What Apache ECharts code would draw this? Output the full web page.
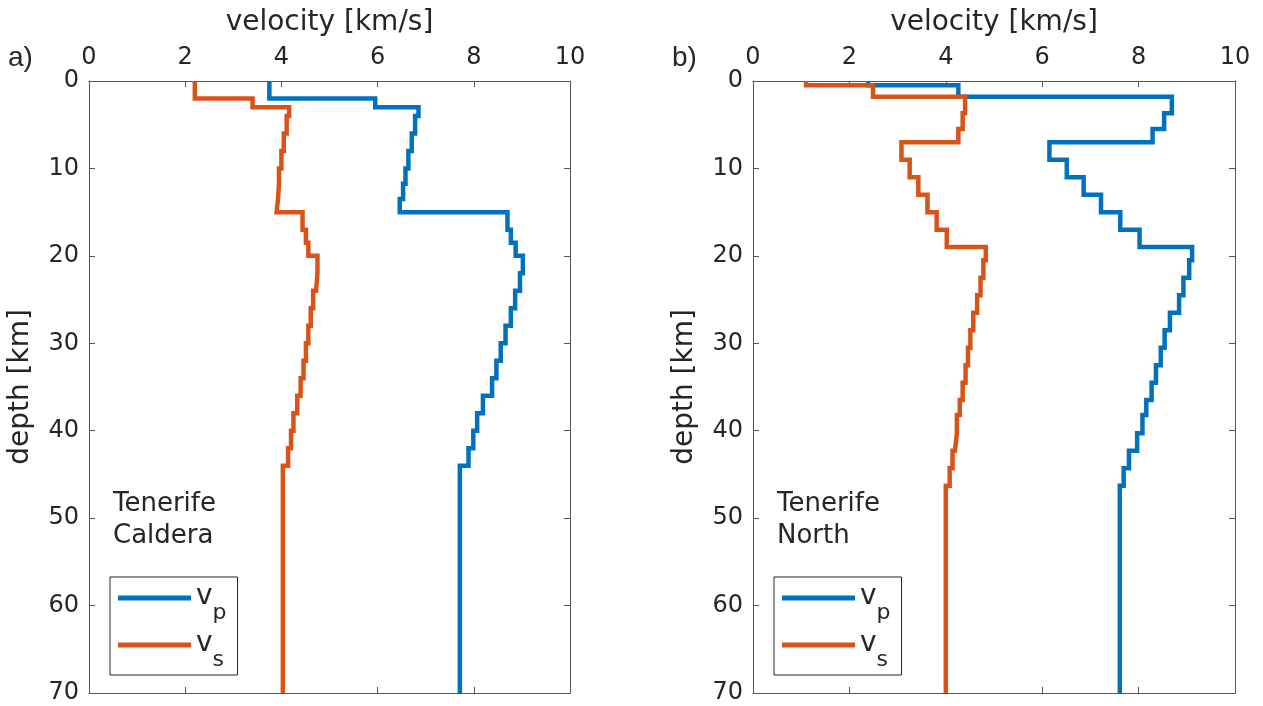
<!DOCTYPE html>
<html>
<head>
<meta charset="utf-8">
<title>Tenerife velocity profiles</title>
<script src="https://cdn.jsdelivr.net/npm/echarts@6/dist/echarts.min.js"></script>
<style>
  html, body { margin: 0; padding: 0; background: #fff; }
  #chart { width: 1263px; height: 706px; }
</style>
</head>
<body>
<div id="chart"></div>
<script>
// layer tops [km] and velocities [km/s]
const maxDepth = 70;
const calderaTops = [0, 2, 3, 4, 6, 8, 10, 11.75, 13.5, 15, 17, 18.5, 20, 22, 24, 26, 28, 30, 32, 34, 36, 38, 40, 42, 44];
const calderaVp = [3.75, 5.95, 6.85, 6.78, 6.71, 6.64, 6.58, 6.53, 6.46, 8.7, 8.77, 8.87, 9.02, 8.96, 8.86, 8.77, 8.66, 8.56, 8.47, 8.38, 8.19, 8.07, 7.99, 7.89, 7.71];
const calderaVs = [2.2, 3.4, 4.16, 4.11, 4.05, 4.0, 3.95, 3.93, 3.9, 4.44, 4.51, 4.56, 4.75, 4.72, 4.66, 4.61, 4.56, 4.51, 4.46, 4.4, 4.33, 4.25, 4.2, 4.14, 4.03];

const northTops = [0, 0.5, 1.8, 3.7, 5.5, 7, 9, 11, 13, 15, 17, 19, 20.5, 22.5, 24.5, 26.5, 28.5, 30.5, 32.5, 34.5, 36.5, 38.2, 40.3, 42.3, 44.3, 46.3];
const northVp = [2.39, 4.26, 8.69, 8.53, 8.29, 6.15, 6.51, 6.86, 7.22, 7.62, 8.02, 9.11, 9.05, 8.93, 8.84, 8.65, 8.54, 8.46, 8.36, 8.27, 8.16, 8.08, 7.97, 7.8, 7.69, 7.61];
const northVs = [1.1, 2.49, 4.4, 4.35, 4.26, 3.08, 3.25, 3.43, 3.62, 3.81, 4.02, 4.83, 4.78, 4.72, 4.65, 4.57, 4.51, 4.46, 4.41, 4.35, 4.29, 4.23, 4.19, 4.14, 4.08, 4.0];

const panelLabels = ['a)', 'b)'];
const siteNames = ['Tenerife\nCaldera', 'Tenerife\nNorth'];

const FONT = 'DejaVu Sans';
const INK = '#262626';
const AXIS = '#555555';
const BLUE = '#0072BD';
const ORANGE = '#D95319';

// staircase: each layer gives a vertical segment from its top to the next top
function stepPoints(tops, vals) {
  let pts = [];
  for (let i = 0; i < vals.length; i++) {
    const end = i + 1 < tops.length ? tops[i + 1] : maxDepth;
    pts.push([vals[i], tops[i]]);
    pts.push([vals[i], end]);
  }
  return pts;
}

const grids = [
  { left: 89, top: 81, width: 481, height: 612 },
  { left: 753, top: 81, width: 482, height: 612 }
];

let xAxes = [], yAxes = [], series = [], legends = [], graphics = [];

grids.forEach((g, i) => {
  const axisLine = { show: true, onZero: false, lineStyle: { color: AXIS, width: 1 } };
  const axisTick = { show: true, inside: true, length: 6, lineStyle: { color: AXIS } };
  // top axis with labels and the name
  xAxes.push({
    gridIndex: i, type: 'value', position: 'top', min: 0, max: 10, interval: 2,
    name: 'velocity [km/s]', nameLocation: 'middle', nameGap: 44,
    nameTextStyle: { fontFamily: FONT, fontSize: 28, color: INK },
    axisLine, axisTick, splitLine: { show: false },
    axisLabel: { fontFamily: FONT, fontSize: 24, color: INK, margin: 11 }
  });
  // bottom side of the box
  xAxes.push({
    gridIndex: i, type: 'value', position: 'bottom', min: 0, max: 10, interval: 2,
    axisLine, axisTick, splitLine: { show: false }, axisLabel: { show: false }
  });
  yAxes.push({
    gridIndex: i, type: 'value', position: 'left', inverse: true, min: 0, max: maxDepth, interval: 10,
    name: 'depth [km]', nameLocation: 'middle', nameGap: 54, nameRotate: 90,
    nameTextStyle: { fontFamily: FONT, fontSize: 28, color: INK },
    axisLine, axisTick, splitLine: { show: false },
    axisLabel: { fontFamily: FONT, fontSize: 24, color: INK, margin: 10 }
  });
  // right side of the box
  yAxes.push({
    gridIndex: i, type: 'value', position: 'right', inverse: true, min: 0, max: maxDepth, interval: 10,
    axisLine, axisTick, splitLine: { show: false }, axisLabel: { show: false }
  });

  legends.push({
    data: ['vp', 'vs'],
    orient: 'vertical',
    left: g.left + 21,
    top: 577,
    padding: [6, 11, 4, 8],
    itemGap: 6,
    itemWidth: 73,
    itemHeight: 5,
    icon: 'rect',
    borderColor: INK,
    borderWidth: 1,
    selectedMode: false,
    formatter: name => '{v|v}{s|' + name.slice(1) + '}',
    textStyle: {
      rich: {
        v: { fontFamily: FONT, fontSize: 28, lineHeight: 30, color: INK, verticalAlign: 'top' },
        s: { fontFamily: FONT, fontSize: 22, lineHeight: 22, color: INK, verticalAlign: 'top', padding: [19, 0, 0, 0] }
      }
    }
  });

  graphics.push({
    type: 'text', left: g.left - 81, top: 44,
    style: { text: panelLabels[i], font: '28px "Liberation Sans"', fill: INK }
  });
  graphics.push({
    type: 'text', left: g.left + 24, top: 488,
    style: { text: siteNames[i], font: '26px "DejaVu Sans"', lineHeight: 32, fill: INK }
  });
});

const profiles = [[calderaTops, calderaVp, calderaVs], [northTops, northVp, northVs]];
profiles.forEach((p, i) => {
  const common = {
    type: 'line', xAxisIndex: i * 2, yAxisIndex: i * 2,
    showSymbol: false, symbol: 'none', silent: true,
    emphasis: { disabled: true }
  };
  series.push(Object.assign({}, common, {
    name: 'vp', data: stepPoints(p[0], p[1]), color: BLUE,
    lineStyle: { color: BLUE, width: 4.5, join: 'miter', cap: 'butt' }
  }));
  series.push(Object.assign({}, common, {
    name: 'vs', data: stepPoints(p[0], p[2]), color: ORANGE,
    lineStyle: { color: ORANGE, width: 4.5, join: 'miter', cap: 'butt' }
  }));
});

const chart = echarts.init(document.getElementById('chart'));
chart.setOption({
  backgroundColor: '#ffffff',
  animation: false,
  grid: grids,
  xAxis: xAxes,
  yAxis: yAxes,
  legend: legends,
  graphic: graphics,
  series: series
});
</script>
</body>
</html>
